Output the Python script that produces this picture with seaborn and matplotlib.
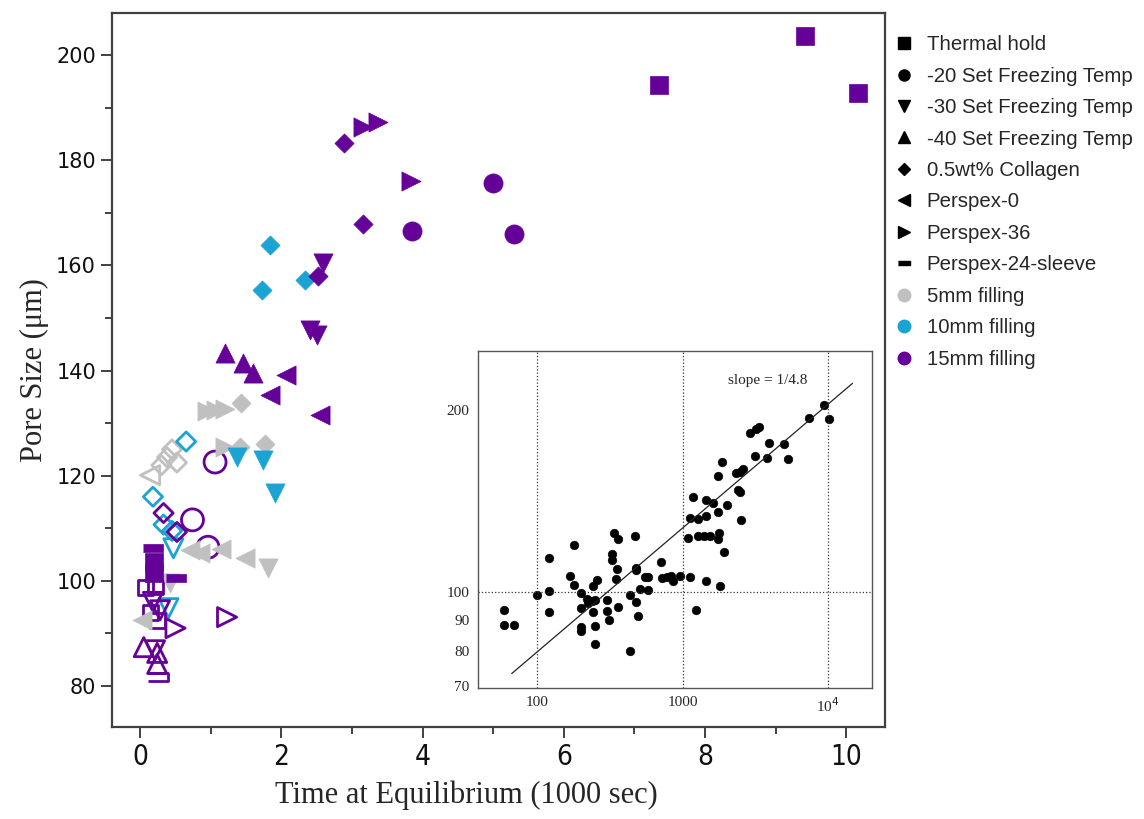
import matplotlib
matplotlib.use("Agg")
import matplotlib.pyplot as plt
from matplotlib.lines import Line2D
from matplotlib.ticker import MultipleLocator, NullLocator
import pandas as pd
import seaborn as sns

# main plot: time at equilibrium (1000 sec) vs pore size (um)
# filled markers
th_15_x = [7.35, 9.42, 10.17, 0.2, 0.2]
th_15_y = [194.3, 203.6, 192.7, 103.6, 101.5]
m20_15_x = [3.85, 5.0, 5.3]
m20_15_y = [166.5, 175.6, 165.9]
p36_15_x = [3.16, 3.37, 3.84]
p36_15_y = [186.3, 187.2, 176.0]
col_15_x = [2.88, 3.16, 2.52]
col_15_y = [183.2, 167.8, 158.0]
m30_15_x = [2.59, 2.41, 2.5]
m30_15_y = [160.4, 147.7, 146.7]
m40_15_x = [1.2, 1.46, 1.6]
m40_15_y = [143.3, 141.4, 139.5]
p0_15_x = [2.07, 1.84, 2.55]
p0_15_y = [139.1, 135.3, 131.5]
sl_15_x = [0.18, 0.5]
sl_15_y = [106.2, 100.5]
col_10_x = [1.84, 1.73, 2.34]
col_10_y = [163.8, 155.3, 157.2]
m30_10_x = [1.37, 1.74, 1.91]
m30_10_y = [123.5, 123.0, 116.7]
p36_5_x = [0.95, 1.08, 1.2, 1.2]
p36_5_y = [132.3, 132.5, 132.7, 125.5]
col_5_x = [1.43, 1.42, 1.77]
col_5_y = [133.8, 125.5, 126.0]
m30_5_x = [1.81, 0.42]
m30_5_y = [102.4, 99.6]
p0_5_x = [0.7, 0.85, 1.15, 1.49, 0.03]
p0_5_y = [105.8, 105.3, 106.0, 104.3, 92.5]

# hollow markers
o_m20_15_x = [1.06, 0.74, 0.96]
o_m20_15_y = [122.6, 111.6, 106.4]
o_col_15_x = [0.33, 0.52]
o_col_15_y = [112.9, 109.3]
o_th_15_x = [0.08, 0.22, 0.15, 0.25]
o_th_15_y = [98.8, 99.0, 94.0, 92.5]
o_sl_15_x = [0.25]
o_sl_15_y = [81.7]
o_m40_15_x = [0.05, 0.24, 0.24]
o_m40_15_y = [87.4, 86.3, 84.2]
o_m30_15_x = [0.18, 0.21, 0.28]
o_m30_15_y = [96.0, 86.8, 94.4]
o_p36_15_x = [1.23, 0.5]
o_p36_15_y = [93.1, 91.0]
o_col_10_x = [0.65, 0.18, 0.33, 0.45]
o_col_10_y = [126.5, 116.0, 110.7, 109.5]
o_m30_10_x = [0.47, 0.4]
o_m30_10_y = [106.2, 94.8]
o_col_5_x = [0.3, 0.38, 0.45, 0.52]
o_col_5_y = [122.0, 123.5, 125.0, 122.5]
o_p0_5_x = [0.14]
o_p0_5_y = [120.1]

# inset: log-log time (sec) vs pore size
ins_x = [59.1, 59.1, 69.2, 100, 120.9, 120.9, 120.9, 179.4, 169.3, 179.4, 199.3, 199.3, 199.3,
         199.3, 219.1, 224.9, 237.1, 242.1, 257.9, 249.9, 242.1, 249.9, 249.9, 300.4, 300.4,
         310.0, 326.8, 326.8, 339.1, 359.4, 353.7, 350.0, 359.4, 436.5, 436.5, 469.9, 479.8,
         479.8, 479.8, 497.8, 508.4, 553.3, 576.9, 583.1, 715.9, 727.2, 787.0, 829.6, 860.7,
         961.4, 1085, 1120, 1120, 1187, 1231, 1271, 1271, 1404, 1442, 1449, 1449, 1544, 1610,
         1742, 1761, 1770, 1742, 1807, 1856, 1916, 2030, 2327, 2415, 2480, 2480, 2533, 2614,
         2904, 3175, 3364, 3142, 3815, 3897, 4993, 5317, 7370, 9333, 10210]
ins_y = [93.3, 88.3, 88.3, 98.7, 113.8, 100.5, 92.7, 119.4, 106.4, 102.8, 99.6, 94.1, 87.5,
         86.1, 97.4, 95.9, 96.5, 102.4, 104.7, 97.0, 92.7, 88.0, 82.0, 97.0, 93.1,
         89.7, 115.3, 113.1, 124.9, 122.3, 108.9, 105.1, 94.3, 99.0, 80.0, 123.9, 109.6,
         108.5, 96.1, 91.2, 101.2, 105.7, 105.7, 100.9, 111.9, 105.5, 105.7, 106.1, 104.1,
         106.1, 122.8, 132.5, 105.7, 143.4, 93.5, 131.7, 123.6, 123.6, 141.6, 133.4, 104.1, 123.6, 140.0,
         155.3, 135.4, 125.2, 122.5, 102.2, 163.8, 116.6, 138.9, 156.9, 147.2, 146.3, 157.9, 131.4, 159.7,
         183.1, 185.9, 187.1, 167.8, 166.5, 175.9, 175.7, 165.9, 194.0, 203.2, 192.7]
fit_x = [67, 14700]
fit_y = [73.3, 221]

legend_labels = ['Thermal hold', '-20 Set Freezing Temp', '-30 Set Freezing Temp',
                 '-40 Set Freezing Temp', '0.5wt% Collagen', 'Perspex-0', 'Perspex-36',
                 'Perspex-24-sleeve', '5mm filling', '10mm filling', '15mm filling']

PURPLE = '#650099'
CYAN = '#1ba3d3'
GRAY = '#c0c0c0'
bar = [(-1, -0.42), (1, -0.42), (1, 0.42), (-1, 0.42)]

sns.set_style('white')
plt.rcParams['font.family'] = ['DejaVu Sans']

fig = plt.figure(figsize=(11.44, 8.19), dpi=100)
ax = fig.add_axes([0.0979, 0.1123, 0.6757, 0.8718])

# (x, y, marker, color, size, hollow)
series = [
    (o_col_5_x, o_col_5_y, 'D', GRAY, 95, True),
    (o_p0_5_x, o_p0_5_y, '<', GRAY, 190, True),
    (o_col_10_x, o_col_10_y, 'D', CYAN, 95, True),
    (o_m30_10_x, o_m30_10_y, 'v', CYAN, 190, True),
    (o_m20_15_x, o_m20_15_y, 'o', PURPLE, 250, True),
    (o_col_15_x, o_col_15_y, 'D', PURPLE, 95, True),
    (o_th_15_x, o_th_15_y, 's', PURPLE, 120, True),
    (o_sl_15_x, o_sl_15_y, bar, PURPLE, 200, True),
    (o_m40_15_x, o_m40_15_y, '^', PURPLE, 190, True),
    (o_m30_15_x, o_m30_15_y, 'v', PURPLE, 190, True),
    (o_p36_15_x, o_p36_15_y, '>', PURPLE, 190, True),
    (p0_5_x, p0_5_y, '<', GRAY, 190, False),
    (m30_5_x, m30_5_y, 'v', GRAY, 190, False),
    (col_5_x, col_5_y, 'D', GRAY, 95, False),
    (p36_5_x, p36_5_y, '>', GRAY, 190, False),
    (col_10_x, col_10_y, 'D', CYAN, 95, False),
    (m30_10_x, m30_10_y, 'v', CYAN, 190, False),
    (th_15_x, th_15_y, 's', PURPLE, 150, False),
    (sl_15_x, sl_15_y, bar, PURPLE, 220, False),
    (m20_15_x, m20_15_y, 'o', PURPLE, 190, False),
    (p36_15_x, p36_15_y, '>', PURPLE, 190, False),
    (col_15_x, col_15_y, 'D', PURPLE, 95, False),
    (m30_15_x, m30_15_y, 'v', PURPLE, 190, False),
    (m40_15_x, m40_15_y, '^', PURPLE, 190, False),
    (p0_15_x, p0_15_y, '<', PURPLE, 190, False),
]
for xs, ys, mk, col, s, hollow in series:
    df = pd.DataFrame({'t': xs, 'd': ys})
    if hollow:
        sns.scatterplot(data=df, x='t', y='d', ax=ax, marker=mk, s=s, color=col,
                        facecolors='none', edgecolor=col, linewidth=2)
    else:
        sns.scatterplot(data=df, x='t', y='d', ax=ax, marker=mk, s=s, color=col,
                        edgecolor=col, linewidth=0.5)

ax.set_xlim(-0.4, 10.55)
ax.set_ylim(72.2, 208)
ax.set_xticks(range(0, 11, 2))
ax.xaxis.set_minor_locator(MultipleLocator(1))
ax.set_yticks(range(80, 201, 20))
ax.yaxis.set_minor_locator(MultipleLocator(10))
ax.tick_params(which='both', direction='out', color='#333333', width=1.3,
               bottom=True, left=True, top=False, right=False, labelcolor='#111111')
ax.tick_params(which='major', length=8)
ax.tick_params(which='minor', length=5)
for lab in ax.get_xticklabels():
    lab.set_family(['DejaVu Sans'])
    lab.set_stretch('condensed')
    lab.set_fontsize(20)
for lab in ax.get_yticklabels():
    lab.set_family(['DejaVu Sans'])
    lab.set_fontsize(15)
for sp in ax.spines.values():
    sp.set_color('#404040')
    sp.set_linewidth(1.6)
ax.set_xlabel('Time at Equilibrium (1000 sec)', family='Liberation Serif', fontsize=22)
ax.set_ylabel('Pore Size (\u03bcm)', family='Liberation Serif', fontsize=22)
ax.xaxis.set_label_coords(0.459, -0.075)
ax.yaxis.set_label_coords(-0.082, 0.5)

# legend
handles = []
for mk in ['s', 'o', 'v', '^', 'D', '<', '>', bar]:
    ms = 6 if mk == 'D' else 8
    handles.append(Line2D([], [], ls='none', marker=mk, color='black', markersize=ms))
for col in [GRAY, CYAN, PURPLE]:
    handles.append(Line2D([], [], ls='none', marker='o', color=col, markersize=9))
fig.legend(handles, legend_labels, loc='upper left', bbox_to_anchor=(0.7744, 0.967),
           frameon=False, prop={'family': 'Liberation Sans', 'size': 14.7},
           handlelength=1.0, handletextpad=0.6, labelspacing=0.61, borderaxespad=0)

# inset
axin = fig.add_axes([0.4178, 0.16, 0.3444, 0.4115])
axin.set_xscale('log')
axin.set_yscale('log')
sns.scatterplot(x=ins_x, y=ins_y, ax=axin, color='black', s=40, edgecolor='black', linewidth=0.3)
sns.lineplot(x=fit_x, y=fit_y, ax=axin, color='#222222', linewidth=0.9)
axin.set_xlim(39.3, 20000)
axin.set_ylim(69.4, 250)
axin.set_xticks([100, 1000, 10000])
axin.set_xticklabels(['100', '1000', '10$^4$'])
axin.set_yticks([70, 80, 90, 100, 200])
axin.set_yticklabels(['70', '80', '90', '100', '200'])
axin.xaxis.set_minor_locator(NullLocator())
axin.yaxis.set_minor_locator(NullLocator())
axin.tick_params(length=0, labelsize=11, pad=6)
for lab in axin.get_xticklabels() + axin.get_yticklabels():
    lab.set_family('Liberation Serif')
for xv in [100, 1000, 10000]:
    axin.axvline(xv, color='#333333', ls=':', lw=0.9)
axin.axhline(100, color='#333333', ls=':', lw=0.9)
for sp in axin.spines.values():
    sp.set_color('#555555')
    sp.set_linewidth(1.0)
axin.text(0.736, 0.911, 'slope = 1/4.8', transform=axin.transAxes, ha='center', va='center',
          family='Liberation Serif', fontsize=11)

fig.savefig('out.png', dpi=100)
